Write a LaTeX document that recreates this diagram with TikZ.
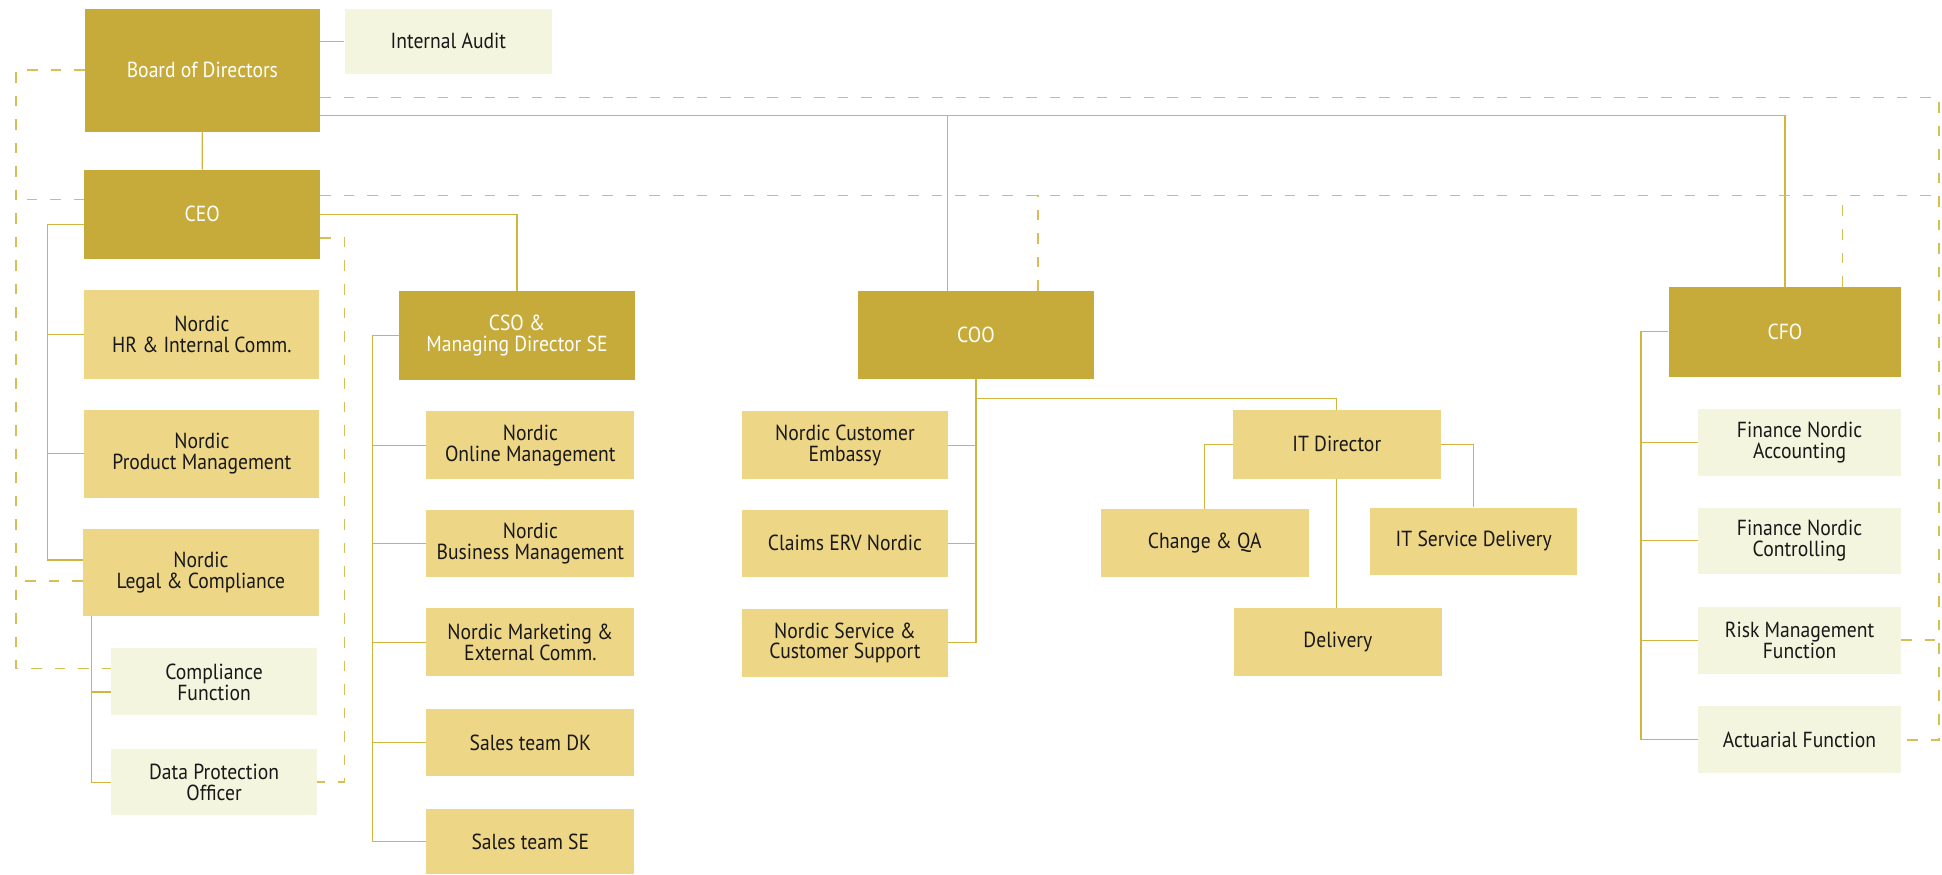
\documentclass[tikz,border=0pt]{standalone}
\usepackage{fontspec}
\setmainfont{PT Sans}[FakeStretch=0.9]
\usetikzlibrary{calc}
\definecolor{darkgold}{RGB}{198,171,58}
\definecolor{midgold}{RGB}{237,214,134}
\definecolor{palegold}{RGB}{243,245,223}
\definecolor{linegold}{RGB}{208,181,64}
\definecolor{dashgold}{RGB}{214,192,86}
\definecolor{txt}{RGB}{24,24,24}
\newcommand\bxfont{\fontsize{17.6}{16.8}\selectfont}
\newcommand\obox[7]{\node[#1,minimum width=#5pt,minimum height=#6pt] (#2) at (#3,#4) {#7};}
\begin{document}
\begin{tikzpicture}[x=1pt,y=-1pt,
 box/.style={rectangle,inner sep=0pt,anchor=north west,align=center,font=\bxfont},
 darkbox/.style={box,fill=darkgold,text=white},
 midbox/.style={box,fill=midgold,text=txt},
 lightbox/.style={box,fill=palegold,text=txt},
 ln/.style={draw=linegold,line width=1pt},
 dl/.style={draw=dashgold,line width=1.2pt,dash pattern=on 8.5pt off 10.5pt}]
\useasboundingbox (0,0) rectangle (1568,705.7);
% boxes
\obox{darkbox}{board}{68.3}{6.7}{189.8}{99.6}{Board of Directors}
\obox{lightbox}{ia}{278}{6.7}{167.6}{53}{Internal Audit}
\obox{darkbox}{ceo}{68}{137}{190}{71.6}{CEO}
\obox{midbox}{hr}{68}{234.2}{189.6}{71.8}{Nordic\\HR \& Internal Comm.}
\obox{midbox}{prod}{68}{330.5}{189.6}{71.1}{Nordic\\Product Management}
\obox{midbox}{legal}{67}{426.6}{190}{70.7}{Nordic\\Legal \& Compliance}
\obox{lightbox}{comp}{89.4}{523.4}{166.5}{54.1}{Compliance\\Function}
\obox{lightbox}{dpo}{89.4}{604.7}{166.5}{53.3}{Data Protection\\Officer}
\obox{darkbox}{cso}{322}{234.7}{190.4}{71.6}{CSO \&\\Managing Director SE}
\obox{midbox}{onl}{344}{331.9}{168}{54.8}{Nordic\\Online Management}
\obox{midbox}{bus}{344}{411.2}{168}{54.4}{Nordic\\Business Management}
\obox{midbox}{mkt}{344}{491}{168}{54.8}{Nordic Marketing \&\\External Comm.}
\obox{midbox}{sdk}{344}{571.9}{168}{54.6}{Sales team DK}
\obox{midbox}{sse}{344}{652.6}{168}{53.1}{Sales team SE}
\obox{darkbox}{coo}{692.6}{234.7}{190.3}{71.3}{COO}
\obox{midbox}{nce}{598.6}{331.8}{166.8}{54.9}{Nordic Customer\\Embassy}
\obox{midbox}{claims}{598.6}{411.2}{166.8}{54.4}{Claims ERV Nordic}
\obox{midbox}{svc}{598.6}{491.4}{166.8}{54.9}{Nordic Service \&\\Customer Support}
\obox{midbox}{itd}{995.2}{331}{167.8}{55.2}{IT Director}
\obox{midbox}{chg}{888.6}{411}{167.8}{54.6}{Change \& QA}
\obox{midbox}{itsd}{1106}{409.6}{167.3}{54.6}{IT Service Delivery}
\obox{midbox}{del}{996}{490.6}{168}{54.9}{Delivery}
\obox{darkbox}{cfo}{1347}{231.4}{188}{72.6}{CFO}
\obox{lightbox}{fna}{1370.7}{329.7}{164.1}{54.3}{Finance Nordic\\Accounting}
\obox{lightbox}{fnc}{1370.7}{409.6}{164.1}{53.8}{Finance Nordic\\Controlling}
\obox{lightbox}{risk}{1370.7}{489.8}{164.1}{53.8}{Risk Management\\Function}
\obox{lightbox}{act}{1370.7}{570}{164.1}{54.3}{Actuarial Function}
% helper coordinates
\coordinate (topline) at (0,93);
\coordinate (rd) at (1565.7,0);
\coordinate (cooT) at ([xshift=-23pt]coo.north);
\coordinate (ceoD) at ([yshift=15pt]ceo.east);
% solid connectors
\draw[ln] (ia.west -| board.east) -- (ia.west);
\draw[ln] (board.south) -- (ceo.north);
\draw[ln] ([yshift=-86.3pt]board.north east) -| (cfo.north);
\draw[ln] (cooT |- topline) -- (cooT);
\draw[ln] (ceo.east) -| (cso.north);
\draw[ln] ([yshift=-8pt]ceo.west) -- ++(-29.5,0) |- ([yshift=10pt]legal.west);
\draw[ln] (hr.west) -- ++(-29.5,0);
\draw[ln] (prod.west) -- ++(-29.5,0);
\draw[ln] ([xshift=7pt]legal.south west) |- (dpo.west);
\draw[ln] ([yshift=-8pt]comp.west) -- ++(-15.4,0);
\draw[ln] (cso.west) -- ++(-21.3,0) |- (sse.west);
\draw[ln] (onl.west) -- ++(-43.3,0);
\draw[ln] (bus.west) -- ++(-43.3,0);
\draw[ln] (mkt.west) -- ++(-43.3,0);
\draw[ln] (sdk.west) -- ++(-43.3,0);
\draw[ln] (coo.south) |- (svc.east);
\draw[ln] (nce.east) -- ++(23.3,0);
\draw[ln] (claims.east) -- ++(23.3,0);
\draw[ln] (coo.south) -- ++(0,15.6) -| (itd.north);
\draw[ln] (itd.west) -| (chg.north);
\draw[ln] (itd.east) -| (itsd.north);
\draw[ln] (itd.south) -- (del.north -| itd.south);
\draw[ln] (cfo.west) -- ++(-22,0) |- (act.west);
\draw[ln] (fna.west) -- ++(-45.4,0);
\draw[ln] (fnc.west) -- ++(-45.4,0);
\draw[ln] (risk.west) -- ++(-45.4,0);
% dashed connectors
\draw[dl] (board.west) -- ++(-55.5,0) |- ([yshift=11pt]comp.west);
\draw[dl] ([yshift=12pt]ceo.west) -- ++(-55,0);
\draw[dl] ([yshift=-7pt]legal.west) -- ++(-54,0);
\draw[dl] ([yshift=-19pt]ceo.east) -- ++(19.7,0) |- (dpo.east);
\draw[dl] ([yshift=-22pt]board.east) -| (rd |- act.east) -- (act.east);
\draw[dl] (ceoD) -- (rd |- ceoD);
\draw[dl] ([xshift=50pt]coo.north) -- ++(0,-77.3);
\draw[dl] ([xshift=46.6pt]cfo.north) -- ++(0,-76);
\draw[dl] (risk.east) -- (rd |- risk.east);
\end{tikzpicture}
\end{document}
